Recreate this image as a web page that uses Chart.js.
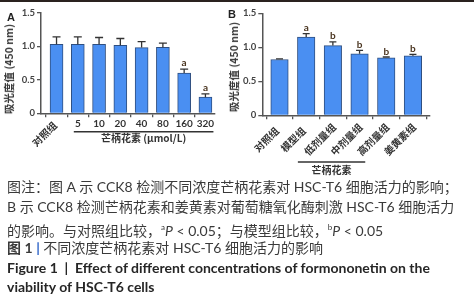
<!DOCTYPE html>
<html><head><meta charset="utf-8">
<script src="https://cdn.jsdelivr.net/npm/chart.js@4"></script>
<style>
html,body{margin:0;padding:0;background:#fff;}
#wrap{position:relative;width:474px;height:300px;overflow:hidden;background:#fff;}
canvas{position:absolute;top:0;}
.t{position:absolute;white-space:nowrap;font-family:Lato,"Noto Sans CJK SC",sans-serif;color:#3a3a3a;}
.cap{font-size:14px;line-height:20px;left:7px;}
.ytitle{font-family:"Noto Sans CJK SC",Lato,sans-serif;font-weight:700;font-size:10.5px;color:#3a3a3a;transform:translate(-50%,-50%) rotate(-90deg);line-height:12px;}
.panel{font-weight:900;font-size:11px;color:#222;font-family:"Liberation Sans",Lato,sans-serif;}
</style></head>
<body><div id="wrap">
<div style="position:absolute;left:0;top:0;width:474px;height:2px;background:#2a221f"></div>
<canvas id="ca" width="237" height="180" style="left:0"></canvas>
<canvas id="cb" width="236" height="180" style="left:238px"></canvas>
<div class="t panel" style="left:7px;top:11px">A</div>
<div class="t panel" style="left:228px;top:8px">B</div>
<div class="t ytitle" style="left:9px;top:69px">吸光度值 (450 nm)</div>
<div class="t ytitle" style="left:234px;top:67px">吸光度值 (450 nm)</div>
<div class="t cap" style="top:177px">图注：图 A 示 CCK8 检测不同浓度芒柄花素对 HSC-T6 细胞活力的影响；</div>
<div class="t cap" style="top:197px">B 示 CCK8 检测芒柄花素和姜黄素对葡萄糖氧化酶刺激 HSC-T6 细胞活力</div>
<div class="t cap" style="top:217px">的影响。与对照组比较，<sup style="font-size:8px">a</sup><i>P</i> &lt; 0.05；与模型组比较，<sup style="font-size:8px">b</sup><i>P</i> &lt; 0.05</div>
<div class="t cap" style="top:238px"><b>图 1</b> <span style="color:#2f64c8;font-weight:700">|</span> 不同浓度芒柄花素对 HSC-T6 细胞活力的影响</div>
<div class="t cap" style="top:258px;font-weight:700;color:#262626">Figure 1&nbsp;&nbsp;|&nbsp;&nbsp;Effect of different concentrations of formononetin on the</div>
<div class="t cap" style="top:277px;font-weight:700;color:#262626">viability of HSC-T6 cells</div>
</div>
<script>
// ---- data ----
const catsA = ['对照组','5','10','20','40','80','160','320'];
const valsA = [1.03, 1.03, 1.03, 1.015, 0.98, 0.985, 0.60, 0.24];
const errA  = [0.11, 0.11, 0.10, 0.10, 0.09, 0.06, 0.06, 0.05];
const sigA  = ['', '', '', '', '', '', 'a', 'a'];
const groupA = '芒柄花素 (μmol/L)';

const catsB = ['对照组','模型组','低剂量组','中剂量组','高剂量组','姜黄素组'];
const valsB = [0.82, 1.15, 1.025, 0.905, 0.845, 0.875];
const errB  = [0.01, 0.05, 0.055, 0.05, 0.012, 0.02];
const sigB  = ['', 'a', 'b', 'b', 'b', 'b'];
const groupB = '芒柄花素';

const yTicks = [0, 0.5, 1.0, 1.5];

const BAR_FILL = '#4a8ff2';
const BAR_EDGE = '#2f4f80';
const AXIS = '#555';
const CJK = '"Noto Sans CJK SC", Lato, sans-serif';
const NUM = 'Lato, "Noto Sans CJK SC", sans-serif';

function errPlugin(vals, errs, sigs, cap, sigOff) {
  return {
    id: 'err',
    afterDatasetsDraw(chart) {
      const {ctx, scales: {x, y}} = chart;
      ctx.save();
      ctx.strokeStyle = '#333';
      ctx.lineWidth = 1.3;
      ctx.fillStyle = '#4a3520';
      ctx.font = `700 10px ${NUM}`;
      ctx.textAlign = 'center';
      ctx.textBaseline = 'alphabetic';
      vals.forEach((v, i) => {
        const px = x.getPixelForValue(i);
        const y0 = y.getPixelForValue(v);
        const y1 = y.getPixelForValue(v + errs[i]);
        ctx.beginPath();
        ctx.moveTo(px, y0); ctx.lineTo(px, y1);
        ctx.moveTo(px - cap, y1); ctx.lineTo(px + cap, y1);
        ctx.stroke();
        if (sigs[i]) ctx.fillText(sigs[i], px, y1 - sigOff);
      });
      ctx.restore();
    }
  };
}

function yScale(width) {
  return {
    min: 0, max: 1.5,
    afterBuildTicks: s => { s.ticks = yTicks.map(v => ({value: v})); },
    ticks: {callback: v => v === 0 ? '0' : v.toFixed(1), font: {family: NUM, size: 9.5, weight: '700'}, color: '#444', padding: 2},
    grid: {drawOnChartArea: false, drawTicks: true, tickLength: 4, color: AXIS, lineWidth: 1.3},
    border: {display: true, color: AXIS, width: 1.5},
    afterFit: s => { s.width = width; }
  };
}
function xScale(cats, min, max, height) {
  return {
    type: 'linear', min: min, max: max, offset: false,
    afterBuildTicks: s => { s.ticks = cats.map((c, i) => ({value: i})); },
    ticks: {display: false},
    grid: {drawOnChartArea: false, drawTicks: true, tickLength: 4, color: AXIS, lineWidth: 1.3},
    border: {display: true, color: AXIS, width: 1.5},
    afterFit: s => { s.height = height; }
  };
}

// ---- Chart A ----
const labelsA = {
  id: 'labelsA',
  afterDraw(chart) {
    const {ctx, scales: {x}} = chart;
    ctx.save();
    ctx.fillStyle = '#333';
    catsA.forEach((c, i) => {
      const px = x.getPixelForValue(i);
      if (i === 0) {
        ctx.save();
        ctx.translate(px - 12, 134);
        ctx.rotate(-Math.PI / 4);
        ctx.font = `700 10px ${CJK}`;
        ctx.textAlign = 'center'; ctx.textBaseline = 'middle';
        ctx.fillText(c, 0, 0);
        ctx.restore();
      } else {
        ctx.font = `700 10px ${NUM}`;
        ctx.textAlign = 'center'; ctx.textBaseline = 'middle';
        ctx.fillText(c, px, 124);
      }
    });
    const xl = x.getPixelForValue(1) - 4, xr = x.getPixelForValue(catsA.length - 1) + 8;
    ctx.strokeStyle = '#333'; ctx.lineWidth = 1.5;
    ctx.beginPath(); ctx.moveTo(xl, 131.7); ctx.lineTo(xr, 131.7); ctx.stroke();
    ctx.font = `700 10px ${CJK}`;
    ctx.textAlign = 'center'; ctx.textBaseline = 'middle';
    ctx.fillText(groupA, (xl + xr) / 2, 138.5);
    ctx.restore();
  }
};

new Chart(document.getElementById('ca'), {
  type: 'bar',
  data: {datasets: [{
    data: valsA.map((v, i) => ({x: i, y: v})),
    backgroundColor: BAR_FILL, borderColor: BAR_EDGE, borderWidth: 1, barThickness: 13
  }]},
  options: {
    responsive: false, animation: false, devicePixelRatio: 1,
    layout: {padding: {left: 0, right: 22, top: 12.7, bottom: 0}},
    plugins: {legend: {display: false}, tooltip: {enabled: false}},
    scales: {x: xScale(catsA, -0.73, 7.45, 66.7), y: yScale(41)}
  },
  plugins: [errPlugin(valsA, errA, sigA, 4, 3), labelsA]
});

// ---- Chart B ----
const labelsB = {
  id: 'labelsB',
  afterDraw(chart) {
    const {ctx, scales: {x}} = chart;
    ctx.save();
    ctx.fillStyle = '#333';
    ctx.font = `700 10px ${CJK}`;
    catsB.forEach((c, i) => {
      const px = x.getPixelForValue(i);
      ctx.save();
      ctx.translate(px - 13, 139.5);
      ctx.rotate(-Math.PI / 4);
      ctx.textAlign = 'center'; ctx.textBaseline = 'middle';
      ctx.fillText(c, 0, 0);
      ctx.restore();
    });
    const xl = x.getPixelForValue(2) - 35 , xr = x.getPixelForValue(4) - 21;
    ctx.strokeStyle = '#333'; ctx.lineWidth = 1.5;
    ctx.beginPath(); ctx.moveTo(xl, 162); ctx.lineTo(xr, 162); ctx.stroke();
    ctx.textAlign = 'center'; ctx.textBaseline = 'middle';
    ctx.fillText(groupB, (xl + xr) / 2, 170);
    ctx.restore();
  }
};

new Chart(document.getElementById('cb'), {
  type: 'bar',
  data: {datasets: [{
    data: valsB.map((v, i) => ({x: i, y: v})),
    backgroundColor: BAR_FILL, borderColor: BAR_EDGE, borderWidth: 1, barThickness: 17.5
  }]},
  options: {
    responsive: false, animation: false, devicePixelRatio: 1,
    layout: {padding: {left: 0, right: 44, top: 13.3, bottom: 0}},
    plugins: {legend: {display: false}, tooltip: {enabled: false}},
    scales: {x: xScale(catsB, -0.645, 5.64, 64.7), y: yScale(24.3)}
  },
  plugins: [errPlugin(valsB, errB, sigB, 3.5, 2.5), labelsB]
});
</script>
</body></html>
